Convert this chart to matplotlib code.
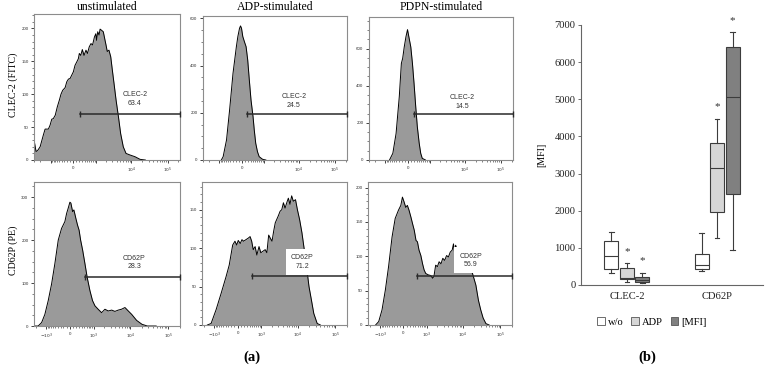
import numpy as np
import matplotlib
matplotlib.use("Agg")
import matplotlib.pyplot as plt
from matplotlib.ticker import FixedLocator, MultipleLocator, NullFormatter
from matplotlib.patches import Patch

# ---------------- data ----------------
col_titles = ["unstimulated", "ADP-stimulated", "PDPN-stimulated"]
row_labels = ["CLEC-2 (FITC)", "CD62P (PE)"]

# histogram curves: fluorescence intensity (x) and event counts (y)
p1_x = [-2940, -2630, -2400, -2020, -1630, -1450, -1160, -1030, -915, -815, -705, -595, -500, -430,
        -360, -270, -210, -155, -100, -48, 3, 57, 112, 165, 198, 248, 305, 370, 450, 515, 600, 690,
        780, 895, 990, 1045, 1130, 1240, 1330, 1490, 1650, 1850, 1970, 2140, 2390, 2680, 2970, 3320,
        3780, 4390, 5070, 5990, 7130, 9200, 12600, 17400, 24300]
p1_y = [28, 13, 14, 20, 38, 47, 47, 53, 62, 63, 68, 81, 91, 100, 106, 110, 119, 123, 124, 129, 134,
        144, 149, 154, 162, 159, 168, 159, 167, 162, 172, 177, 175, 187, 192, 182, 195, 190, 199, 197,
        195, 182, 175, 165, 167, 157, 137, 116, 91, 66, 40, 20, 10, 7.6, 5, 1, 0]

p2_x = [-860, -750, -570, -430, -295, -175, -125, -70, -38, -6, 35, 88, 143, 198, 255, 318, 398, 450,
        515, 600, 690, 895, 1130]
p2_y = [0, 14, 85, 212, 367, 480, 523, 558, 568, 558, 523, 501, 480, 424, 339, 254, 184, 127, 71, 35,
        14, 3, 0]

p3_x = [-730, -555, -410, -285, -210, -165, -112, -57, -6, 48, 100, 155, 210, 270, 330, 405, 470, 540, 705]
p3_y = [0, 36, 143, 340, 520, 547, 609, 663, 702, 654, 609, 520, 412, 287, 179, 90, 36, 9, 0]

p4_x = [-2085, -1690, -1355, -1095, -870, -680, -525, -385, -265, -155, -100, -52, 0, 30, 83, 123, 187,
        240, 295, 350, 430, 525, 630, 775, 930, 1095, 1355, 1690, 2085, 2560, 3170, 3870, 4750, 5800,
        7150, 8760, 10800, 14600, 20200, 27900, 48000]
p4_y = [0, 0, 8, 27, 59, 98, 145, 200, 227, 243, 262, 274, 288, 286, 266, 270, 250, 235, 223, 200, 176,
        145, 113, 82, 59, 47, 39, 31, 39, 35, 37, 34, 37, 39, 43, 35, 27, 13, 4, 0, 0]

p5_x = [-1560, -1225, -870, -600, -385, -270, -155, -83, -30, 18, 80, 133, 187, 265, 350, 420, 485, 555,
        645, 735, 860, 975, 1130, 1310, 1460, 1640, 1815, 2030, 2250, 2490, 2950, 3370, 3730, 4130, 4570,
        5070, 5600, 6180, 6860, 7600, 8700, 9770, 11200, 12900, 14900, 17500, 19900, 23000, 26700,
        32900, 40000]
p5_y = [0, 2, 20, 41, 63, 78, 104, 109, 104, 110, 106, 111, 109, 111, 113, 115, 109, 98, 102, 91, 102,
        94, 96, 98, 94, 117, 113, 109, 122, 133, 141, 148, 150, 159, 152, 159, 165, 157, 168, 161, 163,
        150, 137, 120, 98, 72, 50, 33, 15, 2, 0]

p6_x = [-1350, -1095, -870, -680, -525, -380, -265, -155, -80, -30, 21, 73, 123, 177, 240, 300, 360,
        430, 490, 560, 650, 740, 830, 930, 1095, 1300, 1490, 1615, 1800, 2020, 2240, 2520, 2830, 3175,
        3580, 4020, 4500, 5080, 5500, 5870, 6300, 6900, 7920, 9680, 13170, 17850, 22000, 25750, 29700,
        34500, 41000, 50000]
p6_y = [0, 5, 22, 51, 85, 128, 155, 167, 174, 186, 179, 171, 174, 167, 157, 147, 138, 123, 121, 109,
        101, 89, 80, 75, 73, 72, 68, 71, 87, 85, 92, 89, 97, 94, 101, 99, 106, 109, 118, 106, 116, 109,
        106, 99, 87, 75, 58, 36, 22, 10, 2, 0]

# gates: (start, level), label values and label positions
gate_names = ["CLEC-2", "CLEC-2", "CLEC-2", "CD62P", "CD62P", "CD62P"]
gate_pct = ["63.4", "24.5", "14.5", "28.3", "71.2", "56.9"]
gate_start = [235, 165, 210, 525, 485, 470]
gate_level = [70, 194, 247, 115, 64, 72]
label_x = [12600, 7130, 8400, 12600, 13200, 16000]
label_y = [93, 250, 313, 148, 82, 94]

hist_ymax = [222, 610, 770, 335, 186, 208]
hist_ystep = [50, 200, 200, 100, 50, 50]

# box plot (MFI)
box_groups = ["CLEC-2", "CD62P"]
box_series = ["w/o", "ADP", "[MFI]"]
whislo = [310, 90, 45, 377, 1257, 943]
q1 = [420, 150, 72, 440, 1976, 2450]
med = [770, 200, 135, 540, 3150, 5060]
q3 = [1190, 450, 225, 835, 3830, 6400]
whishi = [1440, 590, 330, 1410, 4480, 6820]
star_series = [1, 2, 4, 5]       # index into the six boxes
star_y = [900, 650, 4790, 7120]

# ---------------- style ----------------
SERIF = "Liberation Serif"
SANS = "Liberation Sans"
plt.rcParams["font.family"] = [SANS, "DejaVu Sans"]
W, H = 767, 368
fig = plt.figure(figsize=(W / 100, H / 100), dpi=100)


def axpx(l, t, w, h):
    return fig.add_axes([l / W, 1 - (t + h) / H, w / W, h / H])


def fwd(x):
    return np.arcsinh(np.asarray(x, dtype=float) / 500.0)


def inv(y):
    return 500.0 * np.sinh(np.asarray(y, dtype=float))


hist_x = [p1_x, p2_x, p3_x, p4_x, p5_x, p6_x]
hist_y = [p1_y, p2_y, p3_y, p4_y, p5_y, p6_y]
rects = [(34, 14, 146, 146), (203, 16, 144, 144), (369, 17, 144, 143),
         (34, 182, 146, 144), (202, 182, 145, 143), (368, 182, 144, 143)]
FILL = "#9a9a9a"
SPINE = "#8c8c8c"

minor_x = ([-3000, -2000] + list(range(-900, 0, 100)) + list(range(100, 1000, 100)) +
           list(range(2000, 10000, 1000)) + list(range(20000, 100000, 10000)) + [200000])

for i in range(6):
    ax = axpx(*rects[i])
    top = i < 3
    ax.set_xscale("function", functions=(fwd, inv))
    xlim = (-3000, 2.2e5) if top else (-2200, 2.05e5)
    ax.set_xlim(*xlim)
    ax.set_ylim(0, hist_ymax[i])
    ax.fill_between(hist_x[i], hist_y[i], 0, color=FILL, lw=0, zorder=1)
    ax.plot(hist_x[i], hist_y[i], color="black", lw=0.7, zorder=2)
    # gate
    ax.plot([gate_start[i], xlim[1]], [gate_level[i], gate_level[i]], color="#2a2a2a", lw=1.1,
            marker="|", markersize=4.5, markeredgewidth=1.0, zorder=4, clip_on=False)
    bb = dict(boxstyle="square,pad=0.75", fc="white", ec="none") if i in (4, 5) else None
    ax.text(label_x[i], label_y[i], gate_names[i] + "\n" + gate_pct[i], ha="center", va="center",
            fontsize=5, color="#333333", linespacing=1.35, bbox=bb, zorder=3)
    # axes cosmetics
    for s in ax.spines.values():
        s.set_color(SPINE)
        s.set_linewidth(0.8)
    ax.xaxis.set_major_locator(FixedLocator([-1000, 0, 1000, 1e4, 1e5]))
    if top:
        ax.set_xticklabels(["", "0", "", r"$10^4$", r"$10^5$"])
    else:
        ax.set_xticklabels([r"$-10^3$", "0", r"$10^3$", r"$10^4$", r"$10^5$"])
    ax.xaxis.set_minor_locator(FixedLocator(minor_x))
    ax.xaxis.set_minor_formatter(NullFormatter())
    ax.yaxis.set_major_locator(MultipleLocator(hist_ystep[i]))
    ax.yaxis.set_minor_locator(MultipleLocator(hist_ystep[i] / 5 if hist_ystep[i] == 50 else hist_ystep[i] / 4))
    ax.tick_params(which="major", direction="out", length=2.5, width=0.6, color="#222222",
                   labelsize=3.2, labelcolor="#333333", pad=1.5)
    ax.tick_params(which="minor", direction="out", length=1.4, width=0.4, color="#222222")

# titles / labels
title_x = [107, 275, 441]
for t, x in zip(col_titles, title_x):
    fig.text(x / W, 1 - 7 / H, t, ha="center", va="center", fontsize=8.5, family=SERIF)
fig.text(13 / W, 1 - 85 / H, row_labels[0], rotation=90, ha="center", va="center", fontsize=7.2, family=SERIF)
fig.text(13 / W, 1 - 250 / H, row_labels[1], rotation=90, ha="center", va="center", fontsize=7.2, family=SERIF)
fig.text(252 / W, 1 - 357 / H, "(a)", ha="center", va="center", fontsize=10.5, family=SERIF, weight="bold")
fig.text(647 / W, 1 - 357 / H, "(b)", ha="center", va="center", fontsize=10.5, family=SERIF, weight="bold")

# ---------------- box plot ----------------
axb = axpx(581, 25, 182, 260)
colors = ["#ffffff", "#d6d6d6", "#808080"]
EDGE = "#3c3c3c"
offsets = [-0.172, 0.0, 0.172]
positions, stats, faces = [], [], []
for g in range(2):
    for s in range(3):
        k = g * 3 + s
        positions.append(g + 1 + offsets[s])
        stats.append(dict(whislo=whislo[k], q1=q1[k], med=med[k], q3=q3[k], whishi=whishi[k], fliers=[]))
        faces.append(colors[s])
bp = axb.bxp(stats, positions=positions, widths=0.155, patch_artist=True, showfliers=False,
             capwidths=0.05,
             boxprops=dict(edgecolor=EDGE, linewidth=0.8),
             medianprops=dict(color=EDGE, linewidth=0.8),
             whiskerprops=dict(color=EDGE, linewidth=0.8),
             capprops=dict(color=EDGE, linewidth=0.8))
for patch, fc in zip(bp["boxes"], faces):
    patch.set_facecolor(fc)
for k, yv in zip(star_series, star_y):
    axb.text(positions[k], yv, "*", ha="center", va="center", fontsize=8, family=SERIF,
             color="#333333", clip_on=False)
axb.set_xlim(0.49, 2.51)
axb.set_ylim(0, 7000)
axb.set_yticks(np.arange(0, 7001, 1000))
axb.set_xticks([1, 2])
axb.set_xticklabels(box_groups)
for lab in axb.get_xticklabels() + axb.get_yticklabels():
    lab.set_family(SERIF)
    lab.set_fontsize(7.6)
    lab.set_color("#222222")
axb.tick_params(axis="x", length=0, pad=5)
axb.tick_params(axis="y", direction="out", length=2.5, width=0.6, color="#555555", pad=1.5)
axb.spines["top"].set_visible(False)
axb.spines["right"].set_visible(False)
axb.spines["left"].set_color("#666666")
axb.spines["bottom"].set_color("#666666")
fig.text(542 / W, 1 - 155 / H, "[MFI]", rotation=90, ha="center", va="center", fontsize=7.2, family=SERIF)

handles = [Patch(facecolor=c, edgecolor="#555555", linewidth=0.6) for c in colors]
fig.legend(handles, box_series, loc="center", bbox_to_anchor=(652 / W, 1 - 322 / H), ncol=3,
           frameon=False, handlelength=0.75, handleheight=0.75, handletextpad=0.3, columnspacing=0.7,
           prop=dict(family=SERIF, size=7.6))

fig.savefig("out.png", dpi=100)
